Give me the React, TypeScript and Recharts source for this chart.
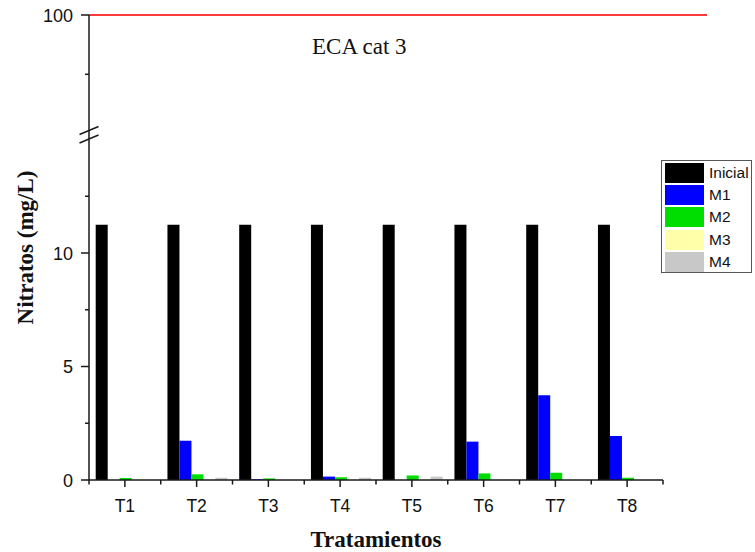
import React from 'react';
import { BarChart, Bar, XAxis, YAxis, ComposedChart, ReferenceLine } from 'recharts';

// Treatments on the category axis
const categories = ['T1', 'T2', 'T3', 'T4', 'T5', 'T6', 'T7', 'T8'];

// Nitrate concentration (mg/L) per sampling
const inicial = [11.25, 11.25, 11.25, 11.25, 11.25, 11.25, 11.25, 11.25];
const m1 = [0, 1.73, 0.03, 0.15, 0, 1.69, 3.73, 1.94];
const m2 = [0.09, 0.25, 0.07, 0.12, 0.2, 0.29, 0.32, 0.1];
const m3 = [0, 0, 0, 0, 0, 0, 0, 0];
const m4 = [0, 0.1, 0, 0.1, 0.15, 0.02, 0, 0];

// Broken y axis: lower and upper segments
const lowerDomain: [number, number] = [0, 15];
const lowerTicks = [0, 2.5, 5, 7.5, 10, 12.5];
const upperDomain: [number, number] = [89.5, 100];
const upperTicks = [95, 100];
const labeledTicks = [0, 5, 10, 100];

// Regulatory limit
const ecaLimit = 100;
const ecaLabel = 'ECA cat 3';

const series = [
  { key: 'inicial', name: 'Inicial', values: inicial, color: '#000000' },
  { key: 'm1', name: 'M1', values: m1, color: '#0000ff' },
  { key: 'm2', name: 'M2', values: m2, color: '#00dd00' },
  { key: 'm3', name: 'M3', values: m3, color: '#ffffaa' },
  { key: 'm4', name: 'M4', values: m4, color: '#c8c8c8' },
];

const data = categories.map((name, i) => {
  const row: Record<string, number | string> = { name };
  series.forEach((s) => {
    row[s.key] = s.values[i];
  });
  return row;
});

const W = 755;
const H = 552;
const AXIS = '#1a1a1a';
const SANS = '"Liberation Sans", Arial, sans-serif';
const SERIF = '"Liberation Serif", "Times New Roman", serif';

const PLOT_LEFT = 89;
const PLOT_RIGHT = 663;
const HALF_BAND = (PLOT_RIGHT - PLOT_LEFT) / categories.length / 2;

const YTick = (props: any) => {
  const { x, y, payload } = props;
  const major = labeledTicks.includes(payload.value);
  return (
    <g>
      <line x1={x - (major ? 8 : 4)} x2={x} y1={y} y2={y} stroke={AXIS} strokeWidth={1.5} />
      {major && (
        <text x={x - 16} y={y} dy={6.5} textAnchor="end" fontFamily={SANS} fontSize={18} fill="#111">
          {payload.value}
        </text>
      )}
    </g>
  );
};

const XTick = (props: any) => {
  const { x, y, payload, index } = props;
  return (
    <g>
      <line x1={x} x2={x} y1={y} y2={y + 7} stroke={AXIS} strokeWidth={1.5} />
      <line x1={x + HALF_BAND} x2={x + HALF_BAND} y1={y} y2={y + 4.5} stroke={AXIS} strokeWidth={1.5} />
      {index === 0 && (
        <line x1={x - HALF_BAND} x2={x - HALF_BAND} y1={y} y2={y + 4.5} stroke={AXIS} strokeWidth={1.5} />
      )}
      <text x={x} y={y + 32} textAnchor="middle" fontFamily={SANS} fontSize={17.5} fill="#111">
        {payload.value}
      </text>
    </g>
  );
};

const EcaLabel = (props: any) => {
  const { viewBox } = props;
  return (
    <text x={viewBox.x + 223} y={viewBox.y + 39} fontFamily={SERIF} fontSize={23} fill="#111">
      {ecaLabel}
    </text>
  );
};

export default function App() {
  return (
    <div style={{ position: 'absolute', left: 0, top: 0, width: W, height: H, background: '#fff' }}>
      {/* Lower segment with the bars */}
      <div style={{ position: 'absolute', left: 0, top: 0 }}>
        <BarChart
          width={W}
          height={H}
          data={data}
          margin={{ top: 139.5, right: W - PLOT_RIGHT, bottom: 0, left: 0 }}
          barCategoryGap={6.7}
          barGap={0}
        >
          <XAxis
            dataKey="name"
            height={72}
            tickSize={0}
            tickMargin={0}
            tickLine={false}
            axisLine={{ stroke: AXIS, strokeWidth: 1.5 }}
            tick={<XTick />}
            interval={0}
            label={{
              value: 'Tratamientos',
              position: 'insideBottom',
              offset: 5,
              style: { fontFamily: SERIF, fontSize: 23, fontWeight: 'bold', fill: '#111' },
            }}
          />
          <YAxis
            width={PLOT_LEFT}
            domain={lowerDomain}
            ticks={lowerTicks}
            interval={0}
            tickSize={0}
            tickMargin={0}
            tickLine={false}
            axisLine={{ stroke: AXIS, strokeWidth: 1.5 }}
            tick={<YTick />}
            allowDataOverflow
          />
          {series.map((s) => (
            <Bar key={s.key} dataKey={s.key} name={s.name} fill={s.color} isAnimationActive={false} />
          ))}
        </BarChart>
      </div>

      {/* Upper segment with the limit line */}
      <div style={{ position: 'absolute', left: 0, top: 0 }}>
        <ComposedChart
          width={W}
          height={145}
          data={data}
          margin={{ top: 15, right: 48, bottom: 5.5, left: 0 }}
        >
          <XAxis dataKey="name" hide />
          <YAxis
            width={PLOT_LEFT}
            domain={upperDomain}
            ticks={upperTicks}
            interval={0}
            tickSize={0}
            tickMargin={0}
            tickLine={false}
            axisLine={{ stroke: AXIS, strokeWidth: 1.5 }}
            tick={<YTick />}
            allowDataOverflow
          />
          <ReferenceLine
            y={ecaLimit}
            stroke="#ff3a3a"
            strokeWidth={2}
            label={<EcaLabel />}
          />
        </ComposedChart>
      </div>

      {/* Axis break marks and y-axis title */}
      <svg
        width={W}
        height={H}
        style={{ position: 'absolute', left: 0, top: 0, pointerEvents: 'none' }}
      >
        <line x1={79.5} y1={134.5} x2={98.5} y2={126.5} stroke={AXIS} strokeWidth={1.5} />
        <line x1={79.5} y1={143} x2={98.5} y2={135} stroke={AXIS} strokeWidth={1.5} />
        <text
          transform="translate(33,247.5) rotate(-90)"
          textAnchor="middle"
          fontFamily={SERIF}
          fontSize={23}
          fontWeight="bold"
          fill="#111"
        >
          Nitratos (mg/L)
        </text>
      </svg>

      {/* Legend */}
      <div
        style={{
          position: 'absolute',
          left: 661,
          top: 160,
          width: 91,
          height: 113,
          boxSizing: 'border-box',
          border: '1px solid #555',
          padding: '1px 0 0 3px',
          background: '#fff',
        }}
      >
        {series.map((s) => (
          <div key={s.key} style={{ display: 'flex', alignItems: 'center', height: 22.2 }}>
            <div style={{ width: 39, height: 20, background: s.color, marginRight: 5 }} />
            <span style={{ fontFamily: SANS, fontSize: 15.5, color: '#111' }}>{s.name}</span>
          </div>
        ))}
      </div>
    </div>
  );
}
